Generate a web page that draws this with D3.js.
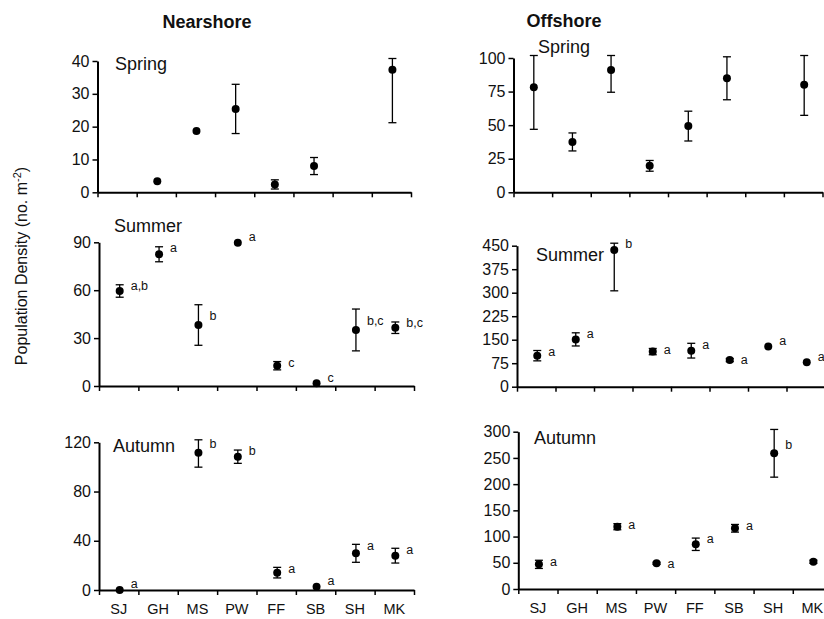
<!DOCTYPE html>
<html>
<head>
<meta charset="utf-8">
<script src="https://cdn.jsdelivr.net/npm/d3@7.9.0/dist/d3.min.js"></script>
<style>
  body { margin: 0; background: #fff; }
  svg text { font-family: "Liberation Sans", Arial, sans-serif; fill: #111; }
</style>
</head>
<body>
<svg id="chart" width="824" height="619"></svg>
<script>
// sites along the x axis
const sites = ["SJ", "GH", "MS", "PW", "FF", "SB", "SH", "MK"];

// mean density and standard error per site (null = not sampled)
const nearSpringMean = [null, 3.4, 18.7, 25.4, 2.4, 8.0, null, 37.3];
const nearSpringSE   = [null, 0, 0, 7.5, 1.4, 2.6, null, 16.1];
const offSpringMean  = [78.2, 37.5, 91.1, 19.7, 49.3, 84.9, null, 80];
const offSpringSE    = [31.3, 6.7, 16.6, 4.0, 11.1, 16, null, 22.7];

const nearSummerMean = [59.5, 82.5, 38.2, 89.7, 12.7, 1.7, 35.1, 36.5];
const nearSummerSE   = [3.9, 4.7, 12.7, 0, 2.6, 0, 13.1, 3.6];
const offSummerMean  = [99, 151, 436, 112, 115, 85, 128, 78];
const offSummerSE    = [16.5, 21, 130, 10, 23.5, 5, 0, 0];

const nearAutumnMean = [0, null, 111.5, 108.3, 14.1, 2.7, 29.8, 27.9];
const nearAutumnSE   = [0, null, 11.7, 5.4, 4.3, 0, 7.3, 6];
const offAutumnMean  = [47, null, 118.8, 49, 85.3, 115.8, 258.8, 52];
const offAutumnSE    = [7.8, null, 5.8, 2, 11.8, 7.3, 45.5, 3];

// significance letters (MK offshore autumn falls outside the frame)
const nearSummerLetters = ["a,b", "a", "b", "a", "c", "c", "b,c", "b,c"];
const offSummerLetters  = ["a", "a", "b", "a", "a", "a", "a", "a"];
const nearAutumnLetters = ["a", "", "b", "b", "a", "a", "a", "a"];
const offAutumnLetters  = ["a", "", "a", "a", "a", "a", "b", ""];

// panel layout (pixels)
const panels = [
  { season: "Spring", mean: nearSpringMean, se: nearSpringSE, letters: null, max: 40, step: 10,
    x0: 97.5, x1: 411, yBot: 192.3, yTop: 61, lx: 115, ly: 70, xlabels: false },
  { season: "Spring", mean: offSpringMean, se: offSpringSE, letters: null, max: 100, step: 25,
    x0: 513.5, x1: 822.5, yBot: 192.3, yTop: 58, lx: 538, ly: 53, xlabels: false },
  { season: "Summer", mean: nearSummerMean, se: nearSummerSE, letters: nearSummerLetters, max: 90, step: 30,
    x0: 99, x1: 414, yBot: 386, yTop: 242.3, lx: 114, ly: 232, xlabels: false },
  { season: "Summer", mean: offSummerMean, se: offSummerSE, letters: offSummerLetters, max: 450, step: 75,
    x0: 517, x1: 825, yBot: 386.7, yTop: 245.7, lx: 536, ly: 261, xlabels: false },
  { season: "Autumn", mean: nearAutumnMean, se: nearAutumnSE, letters: nearAutumnLetters, max: 120, step: 40,
    x0: 99, x1: 414, yBot: 590, yTop: 442.3, lx: 113, ly: 452, xlabels: true },
  { season: "Autumn", mean: offAutumnMean, se: offAutumnSE, letters: offAutumnLetters, max: 300, step: 50,
    x0: 518.3, x1: 832, yBot: 589, yTop: 431.7, lx: 534, ly: 444, xlabels: true }
];

const svg = d3.select("#chart");

// column titles
svg.append("text").attr("x", 207).attr("y", 28).attr("text-anchor", "middle")
  .attr("font-size", 18).attr("font-weight", "bold").text("Nearshore");
svg.append("text").attr("x", 564).attr("y", 27).attr("text-anchor", "middle")
  .attr("font-size", 18).attr("font-weight", "bold").text("Offshore");

// shared y label
const yl = svg.append("text")
  .attr("transform", "translate(27,266) rotate(-90)")
  .attr("text-anchor", "middle")
  .attr("font-size", 16);
yl.append("tspan").text("Population Density (no. m");
yl.append("tspan").attr("baseline-shift", "super").attr("font-size", 11).text("-2");
yl.append("tspan").text(")");

function drawPanel(p) {
  const g = svg.append("g");
  const xb = d3.scaleBand().domain(sites).range([p.x0, p.x1]);
  const xt = d3.scaleLinear().domain([0, sites.length]).range([p.x0, p.x1]);
  const y = d3.scaleLinear().domain([0, p.max]).range([p.yBot, p.yTop]);

  // y axis
  const ya = g.append("g")
    .attr("transform", `translate(${p.x0},0)`)
    .call(d3.axisLeft(y).tickValues(d3.range(0, p.max + p.step, p.step))
      .tickSize(5).tickSizeOuter(0).tickPadding(3));
  ya.select(".domain").attr("stroke", "#000").attr("stroke-width", 2);
  ya.selectAll(".tick line").attr("stroke", "#000").attr("stroke-width", 1.5);
  ya.selectAll("text").attr("font-size", 16).attr("font-family", null).attr("fill", "#111");

  // x axis with ticks at site boundaries
  const xa = g.append("g")
    .attr("transform", `translate(0,${p.yBot})`)
    .call(d3.axisBottom(xt).tickValues(d3.range(0, sites.length + 1))
      .tickSize(5).tickSizeOuter(0).tickFormat(""));
  xa.select(".domain").attr("stroke", "#000").attr("stroke-width", 2);
  xa.selectAll(".tick line").attr("stroke", "#000").attr("stroke-width", 1.5);

  if (p.xlabels) {
    const xl = g.append("g")
      .attr("transform", `translate(0,${p.yBot + 8})`)
      .call(d3.axisBottom(xb).tickSize(0).tickPadding(6));
    xl.select(".domain").remove();
    xl.selectAll("text").attr("font-size", 14.5).attr("font-family", null).attr("fill", "#111");
  }

  // season label
  g.append("text").attr("x", p.lx).attr("y", p.ly).attr("font-size", 18).text(p.season);

  const pts = sites.map((s, i) => ({
    site: s, mean: p.mean[i], se: p.se[i], letter: p.letters ? p.letters[i] : ""
  })).filter(d => d.mean != null);

  const cx = d => xb(d.site) + xb.bandwidth() / 2 + 1;
  const hiY = d => Math.max(y(d.mean + d.se), p.yTop - 2.5);

  // error bars
  const eb = g.selectAll(".eb").data(pts.filter(d => d.se > 0)).join("g")
    .attr("stroke", "#000").attr("stroke-width", 1.3);
  eb.append("line").attr("x1", cx).attr("x2", cx)
    .attr("y1", d => y(Math.max(0, d.mean - d.se))).attr("y2", hiY);
  eb.append("line").attr("x1", d => cx(d) - 4).attr("x2", d => cx(d) + 4)
    .attr("y1", d => y(Math.max(0, d.mean - d.se))).attr("y2", d => y(Math.max(0, d.mean - d.se)));
  eb.append("line").attr("x1", d => cx(d) - 4).attr("x2", d => cx(d) + 4)
    .attr("y1", hiY).attr("y2", hiY);

  // means
  g.selectAll(".pt").data(pts).join("circle")
    .attr("cx", cx).attr("cy", d => y(d.mean)).attr("r", 4).attr("fill", "#000");

  // letters
  g.selectAll(".lt").data(pts.filter(d => d.letter)).join("text")
    .attr("x", d => cx(d) + 11)
    .attr("y", d => d.se > 0 ? Math.max(hiY(d), y(d.mean) - 10) + 2 : y(d.mean) - 5)
    .attr("dominant-baseline", "middle")
    .attr("font-size", 12.5)
    .text(d => d.letter);
}

panels.forEach(drawPanel);
</script>
</body>
</html>
